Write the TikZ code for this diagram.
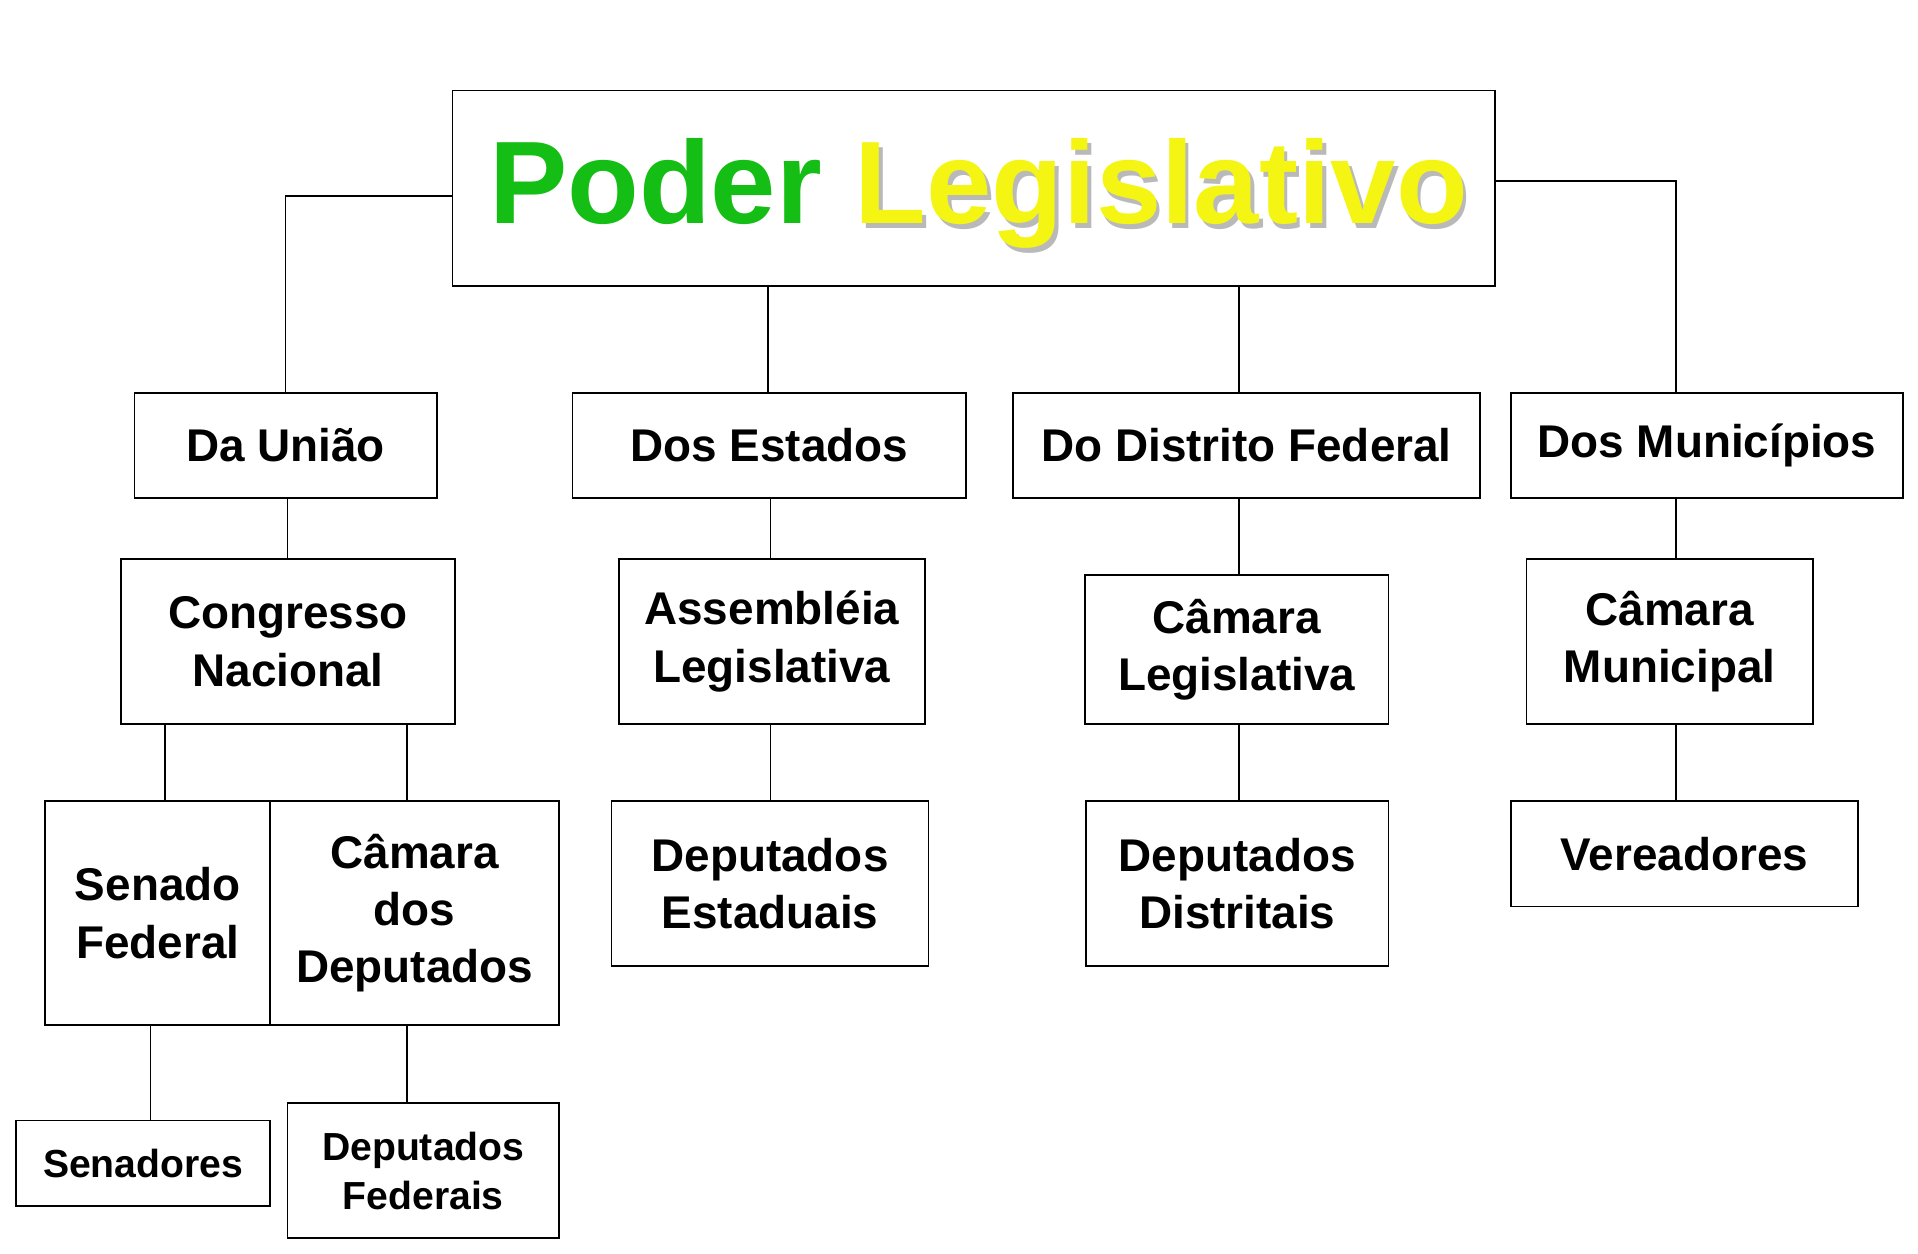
\documentclass[tikz,border=0pt]{standalone}
\usepackage{fontspec}
\setmainfont{Liberation Sans}
\definecolor{pgreen}{RGB}{20,190,20}
\definecolor{pyellow}{RGB}{245,245,20}
\begin{document}
\begin{tikzpicture}[x=1pt,y=-1pt,
  bx/.style={draw,line width=1.4pt,font=\bfseries\fontsize{37.5}{47}\selectfont,align=center,inner sep=0},
  sm/.style={draw,line width=1.4pt,font=\bfseries\fontsize{32}{40}\selectfont,align=center,inner sep=0},
  ln/.style={line width=1.4pt}]
\useasboundingbox (0,0) rectangle (1568,1025);
\def\bb#1#2#3#4#5#6#7{\node[#7,minimum width={#4-#2},minimum height={#5-#3}] (#1) at ({(#2+#4)/2},{(#3+#5)/2}) {#6};}
\bb{t}{370}{74}{1222}{234}{}{draw,line width=1.4pt}
\node[gray!55] (tsh) at (803,162) {\bfseries\fontsize{96}{100}\selectfont\phantom{Poder} Legislativo};
\node (tt) at (800,158) {\bfseries\fontsize{96}{100}\selectfont\textcolor{pgreen}{Poder} \textcolor{pyellow}{Legislativo}};
\bb{u}{110}{321}{357}{407}{Da União}{bx}
\bb{e}{468}{321}{790}{407}{Dos Estados}{bx}
\bb{d}{828}{321}{1210}{407}{Do Distrito Federal}{bx}
\bb{m}{1235}{321}{1556}{407}{Dos Municípios}{bx}
\bb{cn}{99}{457}{372}{592}{Congresso\\Nacional}{bx}
\bb{al}{506}{457}{756}{592}{Assembléia\\Legislativa}{bx}
\bb{cl}{887}{470}{1135}{592}{Câmara\\Legislativa}{bx}
\bb{cm}{1248}{457}{1482}{592}{Câmara\\Municipal}{bx}
\bb{sf}{37}{655}{221}{838}{Senado\\Federal}{bx}
\bb{cd}{221}{655}{457}{838}{Câmara\\dos\\Deputados}{bx}
\bb{de}{500}{655}{759}{790}{Deputados\\Estaduais}{bx}
\bb{dd}{888}{655}{1135}{790}{Deputados\\Distritais}{bx}
\bb{v}{1235}{655}{1519}{741}{Vereadores}{bx}
\bb{s}{13}{916}{221}{986}{Senadores}{sm}
\bb{df}{235}{902}{457}{1012}{Deputados\\Federais}{sm}
\draw[ln] (t.west|-0,160) -| (u.north);
\draw[ln] (t.east|-0,148) -| (1370,321);
\draw[ln] (628,234) -- (628,321);
\draw[ln] (1013,234) -- (1013,321);
\draw[ln] (235,407) -- (235,457);
\draw[ln] (630,407) -- (630,457);
\draw[ln] (1013,407) -- (1013,470);
\draw[ln] (1370,407) -- (1370,457);
\draw[ln] (135,592) -- (135,655);
\draw[ln] (333,592) -- (333,655);
\draw[ln] (630,592) -- (630,655);
\draw[ln] (1013,592) -- (1013,655);
\draw[ln] (1370,592) -- (1370,655);
\draw[ln] (123,838) -- (123,916);
\draw[ln] (333,838) -- (333,902);
\end{tikzpicture}
\end{document}
